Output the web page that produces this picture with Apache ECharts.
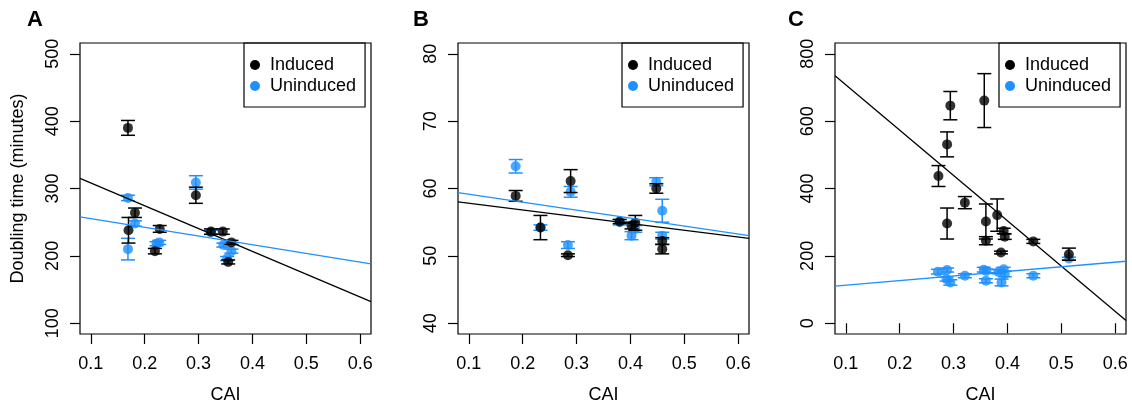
<!DOCTYPE html>
<html>
<head>
<meta charset="utf-8">
<script src="https://cdn.jsdelivr.net/npm/echarts@6/dist/echarts.min.js"></script>
<style>
  html, body { margin: 0; padding: 0; background: #fff; }
  #main { width: 1132px; height: 404px; }
</style>
</head>
<body>
<div id="main"></div>
<script>
// tick labels
var xTicks = [0.1, 0.2, 0.3, 0.4, 0.5, 0.6];
var yTicksA = [100, 200, 300, 400, 500];
var yTicksB = [40, 50, 60, 70, 80];
var yTicksC = [0, 200, 400, 600, 800];

// [CAI, doubling time, error]
var aInduced = [[0.169, 390, 11], [0.170, 238, 19], [0.182, 264, 7], [0.219, 207, 4], [0.228, 240, 5],
  [0.295, 290, 12], [0.323, 236, 4], [0.345, 236, 4], [0.355, 191, 3], [0.361, 220, 3]];
var aUninduced = [[0.169, 210, 16], [0.169, 286, 4], [0.182, 248, 4], [0.222, 218, 3], [0.227, 220, 3],
  [0.295, 309, 10], [0.323, 235, 3], [0.346, 216, 3], [0.353, 196, 3], [0.361, 207, 3]];
var bInduced = [[0.187, 58.9, 0.8], [0.233, 54.2, 1.8], [0.284, 50.1, 0.2], [0.289, 61.1, 1.7], [0.380, 55.1, 0.3],
  [0.402, 54.5, 0.5], [0.409, 54.9, 1.1], [0.448, 60.0, 0.7], [0.459, 52.2, 0.5], [0.459, 51.0, 0.7]];
var bUninduced = [[0.187, 63.3, 1.0], [0.233, 54.2, 0.4], [0.284, 51.6, 0.5], [0.289, 59.5, 0.8], [0.380, 55.0, 0.4],
  [0.402, 53.0, 0.6], [0.409, 54.0, 0.5], [0.448, 61.0, 0.6], [0.459, 56.7, 1.7], [0.459, 53.0, 0.5]];
var cInduced = [[0.272, 437, 31], [0.288, 531, 37], [0.294, 646, 42], [0.288, 296, 46], [0.321, 358, 18],
  [0.357, 661, 80], [0.360, 302, 52], [0.360, 245, 12], [0.381, 321, 48], [0.393, 274, 8],
  [0.395, 257, 8], [0.388, 210, 4], [0.448, 243, 6], [0.514, 205, 18]];
var cUninduced = [[0.271, 153, 7], [0.288, 158, 6], [0.287, 131, 6], [0.294, 121, 8], [0.321, 141, 6],
  [0.356, 159, 7], [0.360, 126, 6], [0.361, 155, 6], [0.383, 153, 6], [0.389, 121, 10],
  [0.393, 160, 6], [0.395, 146, 8], [0.448, 141, 6], [0.514, 192, 4]];

// fitted lines, read at both plot edges
var aFitInduced = [[0.08, 315], [0.62, 132]];
var aFitUninduced = [[0.08, 258], [0.62, 188]];
var bFitInduced = [[0.08, 58.0], [0.62, 52.6]];
var bFitUninduced = [[0.08, 59.4], [0.62, 53.0]];
var cFitInduced = [[0.08, 735], [0.62, 8]];
var cFitUninduced = [[0.08, 110], [0.62, 184]];

var xRange = [0.08, 0.62];
var yRangeA = [84, 516];
var yRangeB = [38.4, 81.6];
var yRangeC = [-32, 832];

var BLACK = '#000000';
var BLUE = '#1E90FF';
var FONT = 'Liberation Sans';

var dom = document.getElementById('main');
var myChart = echarts.init(dom, null, { renderer: 'canvas' });

function errRender(params, api) {
  var x = api.value(0);
  var top = api.coord([x, api.value(2)]);
  var bot = api.coord([x, api.value(1)]);
  var c = api.visual('color');
  var w = 7;
  var st = { stroke: c, lineWidth: 1.5 };
  return {
    type: 'group',
    children: [
      { type: 'line', shape: { x1: top[0], y1: top[1], x2: bot[0], y2: bot[1] }, style: st },
      { type: 'line', shape: { x1: top[0] - w, y1: top[1], x2: top[0] + w, y2: top[1] }, style: st },
      { type: 'line', shape: { x1: bot[0] - w, y1: bot[1], x2: bot[0] + w, y2: bot[1] }, style: st }
    ]
  };
}

function panelSeries(i, induced, uninduced, fitInd, fitUn) {
  // uninduced first, induced drawn on top
  var groups = [[ 'Uninduced', uninduced, BLUE, 0 ], [ 'Induced', induced, BLACK, 1 ]];
  var out = [];
  groups.forEach(function (g) {
    out.push({
      name: g[0], type: 'custom', xAxisIndex: i, yAxisIndex: i,
      itemStyle: { color: g[2] }, renderItem: errRender, z: 3 + g[3] * 2,
      data: g[1].map(function (d) { return [d[0], d[1] - d[2], d[1] + d[2]]; })
    });
    out.push({
      name: g[0], type: 'scatter', xAxisIndex: i, yAxisIndex: i,
      symbol: 'circle', symbolSize: 10, itemStyle: { color: g[2] }, z: 4 + g[3] * 2,
      data: g[1].map(function (d) { return [d[0], d[1]]; })
    });
  });
  out.push({ type: 'line', xAxisIndex: i, yAxisIndex: i, data: fitInd, symbol: 'none',
    lineStyle: { color: BLACK, width: 1.3 }, z: 7, silent: true });
  out.push({ type: 'line', xAxisIndex: i, yAxisIndex: i, data: fitUn, symbol: 'none',
    lineStyle: { color: BLUE, width: 1.3 }, z: 7, silent: true });
  return out;
}

var gridLefts = [80, 458, 835];
var legendLefts = [244, 622, 999];
var yRanges = [yRangeA, yRangeB, yRangeC];
var yTicks = [yTicksA, yTicksB, yTicksC];
var letters = ['A', 'B', 'C'];
var letterX = [27, 413, 788];

var option = {
  animation: false,
  backgroundColor: '#ffffff',
  textStyle: { fontFamily: FONT },
  title: letters.map(function (t, i) {
    return { text: t, left: letterX[i], top: 9, padding: 0,
      textStyle: { fontFamily: FONT, fontSize: 22, fontWeight: 'bold', color: '#000' } };
  }),
  legend: legendLefts.map(function (l) {
    return {
      data: ['Induced', 'Uninduced'],
      left: l, top: 43, orient: 'vertical',
      icon: 'circle', itemWidth: 20, itemHeight: 10, itemGap: 3,
      padding: [13, 9, 12, 6],
      borderColor: '#000', borderWidth: 1.2,
      textStyle: { fontFamily: FONT, fontSize: 18, color: '#000', lineHeight: 18 }
    };
  }),
  grid: gridLefts.map(function (l) {
    return { left: l, top: 43, width: 291, height: 291, show: true,
      outerBoundsMode: 'none', containLabel: false,
      borderColor: '#000', borderWidth: 1.2, backgroundColor: 'transparent' };
  }),
  xAxis: gridLefts.map(function (l, i) {
    return {
      type: 'value', gridIndex: i, min: xRange[0], max: xRange[1],
      name: 'CAI', nameLocation: 'middle', nameGap: 52,
      nameTextStyle: { fontFamily: FONT, fontSize: 18, color: '#000' },
      axisLine: { show: false },
      axisTick: { show: true, length: 10, customValues: xTicks, lineStyle: { color: '#000', width: 1.2 } },
      axisLabel: { customValues: xTicks, margin: 21, fontFamily: FONT, fontSize: 18, color: '#000' },
      splitLine: { show: false }
    };
  }),
  yAxis: gridLefts.map(function (l, i) {
    return {
      type: 'value', gridIndex: i, min: yRanges[i][0], max: yRanges[i][1],
      name: i === 0 ? 'Doubling time (minutes)' : '', nameLocation: 'middle', nameGap: 53,
      nameTextStyle: { fontFamily: FONT, fontSize: 18, color: '#000' },
      axisLine: { show: false },
      axisTick: { show: true, length: 10, customValues: yTicks[i], lineStyle: { color: '#000', width: 1.2 } },
      axisLabel: { customValues: yTicks[i], rotate: 90, margin: 18, fontFamily: FONT, fontSize: 18, color: '#000' },
      splitLine: { show: false }
    };
  }),
  series: [].concat(
    panelSeries(0, aInduced, aUninduced, aFitInduced, aFitUninduced),
    panelSeries(1, bInduced, bUninduced, bFitInduced, bFitUninduced),
    panelSeries(2, cInduced, cUninduced, cFitInduced, cFitUninduced)
  )
};

if (option && typeof option === 'object') {
  myChart.setOption(option);
}

window.addEventListener('resize', myChart.resize);
</script>
</body>
</html>
